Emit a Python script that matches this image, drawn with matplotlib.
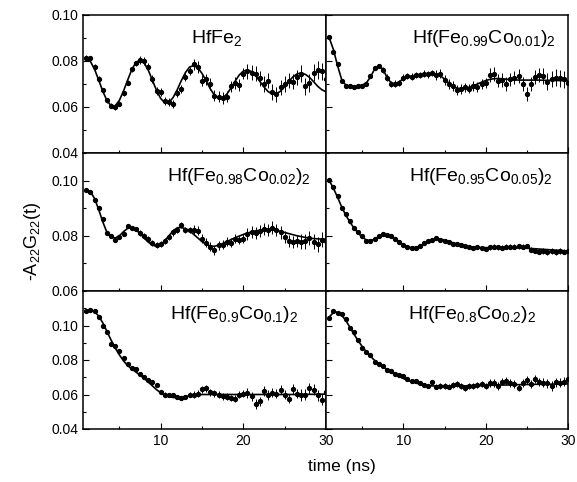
import numpy as np
import matplotlib
matplotlib.use('Agg')
import matplotlib.pyplot as plt
from matplotlib.ticker import MultipleLocator

plt.rcParams['font.family'] = ['Liberation Sans', 'DejaVu Sans']
plt.rcParams['mathtext.fontset'] = 'custom'
plt.rcParams['mathtext.rm'] = 'Liberation Sans'
plt.rcParams['mathtext.it'] = 'Liberation Sans:italic'
plt.rcParams['mathtext.bf'] = 'Liberation Sans:bold'

# ---------------- data ----------------
time_ns = [1.0, 1.5, 2.0, 2.5, 3.0, 3.5, 4.0, 4.5, 5.0, 5.5, 6.0, 6.5, 7.0,
           7.5, 8.0, 8.5, 9.0, 9.5, 10.0, 10.5, 11.0, 11.5, 12.0, 12.5, 13.0, 13.5,
           14.0, 14.5, 15.0, 15.5, 16.0, 16.5, 17.0, 17.5, 18.0, 18.5, 19.0, 19.5, 20.0,
           20.5, 21.0, 21.5, 22.0, 22.5, 23.0, 23.5, 24.0, 24.5, 25.0, 25.5, 26.0, 26.5,
           27.0, 27.5, 28.0, 28.5, 29.0, 29.5, 30.0]

labels = ["HfFe$_2$",
          "Hf(Fe$_{0.99}$Co$_{0.01}$)$_2$",
          "Hf(Fe$_{0.98}$Co$_{0.02}$)$_2$",
          "Hf(Fe$_{0.95}$Co$_{0.05}$)$_2$",
          "Hf(Fe$_{0.9}$Co$_{0.1}$)$_2$",
          "Hf(Fe$_{0.8}$Co$_{0.2}$)$_2$"]

# HfFe2
data_hffe2 = [.0815, .0812, .0775, .0722, .0672, .0630, .0605, .0600, .0615, .0660, .0705, .0765, .0790,
              .0805, .0800, .0775, .0720, .0670, .0665, .0625, .0620, .0612, .0660, .0680, .0730, .0755,
              .0785, .0775, .0715, .0720, .0700, .0650, .0645, .0640, .0645, .0690, .0705, .0695, .0745,
              .0755, .0750, .0745, .0725, .0700, .0715, .0665, .0655, .0685, .0700, .0715, .0710, .0730,
              .0745, .0690, .0705, .0750, .0760, .0755, .0720]
fit_hffe2 = [.0810, .0798, .0764, .0717, .0668, .0628, .0605, .0605, .0629, .0669, .0717, .0762, .0794,
             .0804, .0792, .0760, .0716, .0672, .0637, .0618, .0620, .0641, .0675, .0715, .0750, .0774,
             .0780, .0770, .0746, .0714, .0679, .0652, .0637, .0639, .0656, .0682, .0712, .0739, .0756,
             .0761, .0754, .0736, .0711, .0687, .0667, .0656, .0657, .0669, .0688, .0711, .0731, .0744,
             .0748, .0742, .0729, .0710, .0690, .0675, .0666]
err_hffe2 = [0.0011] * 13 + [0.0017] * 13 + [0.0025] * 13 + [0.0033] * 13 + [0.0038] * 7

# Co 0.01
data_co01 = [.0905, .0840, .0785, .0715, .0692, .0690, .0688, .0690, .0692, .0700, .0735, .0770, .0780,
             .0760, .0728, .0700, .0702, .0705, .0728, .0735, .0732, .0740, .0738, .0745, .0742, .0748,
             .0740, .0745, .0718, .0700, .0690, .0675, .0678, .0685, .0680, .0692, .0688, .0700, .0705,
             .0740, .0745, .0715, .0718, .0700, .0720, .0728, .0735, .0700, .0655, .0700, .0730, .0738,
             .0735, .0710, .0722, .0728, .0725, .0720, .0705]
fit_co01 = [.0900, .0850, .0780, .0720, .0695, .0688, .0690, .0692, .0695, .0705, .0730, .0765, .0780,
            .0765, .0730, .0705, .0700, .0710, .0722, .0730, .0735, .0738, .0740, .0742, .0743, .0743,
            .0741, .0735, .0722, .0705, .0690, .0682, .0680, .0682, .0686, .0692, .0700, .0708, .0715,
            .0720, .0723, .0724, .0723, .0721, .0719, .0718, .0717, .0717, .0717, .0717, .0717, .0717,
            .0716, .0716, .0716, .0715, .0715, .0714, .0713]
err_co01 = [0.0008] * 13 + [0.0014] * 13 + [0.0021] * 13 + [0.003] * 13 + [0.0036] * 7

# Co 0.02
data_co02 = [.0965, .0958, .0930, .0900, .0860, .0810, .0800, .0785, .0795, .0805, .0835, .0828, .0825,
             .0810, .0800, .0790, .0775, .0765, .0770, .0782, .0795, .0812, .0820, .0838, .0822, .0820,
             .0822, .0818, .0790, .0775, .0760, .0748, .0765, .0768, .0778, .0775, .0790, .0785, .0790,
             .0805, .0815, .0810, .0818, .0825, .0822, .0830, .0820, .0812, .0795, .0780, .0778, .0780,
             .0778, .0780, .0792, .0778, .0770, .0785, .0780]
fit_co02 = [.0966, .0960, .0935, .0895, .0850, .0812, .0795, .0792, .0800, .0815, .0827, .0830, .0822,
            .0808, .0792, .0777, .0766, .0762, .0768, .0782, .0800, .0818, .0829, .0830, .0826, .0818,
            .0805, .0792, .0779, .0769, .0763, .0762, .0766, .0772, .0779, .0786, .0793, .0799, .0805,
            .0810, .0814, .0818, .0820, .0822, .0822, .0821, .0819, .0816, .0812, .0808, .0804, .0800,
            .0797, .0794, .0792, .0790, .0789, .0788, .0788]
err_co02 = [0.0007] * 13 + [0.0011] * 13 + [0.0016] * 13 + [0.0022] * 13 + [0.0027] * 7

# Co 0.05
data_co05 = [.1002, .0975, .0945, .0902, .0878, .0852, .0830, .0812, .0798, .0782, .0780, .0790, .0800,
             .0808, .0802, .0801, .0788, .0776, .0765, .0758, .0755, .0754, .0762, .0775, .0782, .0785,
             .0792, .0785, .0782, .0778, .0772, .0770, .0765, .0762, .0758, .0757, .0760, .0756, .0752,
             .0758, .0760, .0758, .0757, .0760, .0760, .0761, .0762, .0761, .0763, .0750, .0745, .0742,
             .0745, .0740, .0744, .0742, .0745, .0743, .0745]
fit_co05 = [.1000, .0972, .0940, .0905, .0875, .0850, .0828, .0810, .0795, .0785, .0782, .0788, .0797,
            .0803, .0805, .0800, .0790, .0778, .0767, .0760, .0757, .0758, .0763, .0771, .0779, .0785,
            .0788, .0788, .0785, .0780, .0775, .0770, .0766, .0763, .0761, .0759, .0758, .0757, .0757,
            .0757, .0757, .0757, .0757, .0757, .0757, .0756, .0756, .0755, .0755, .0754, .0753, .0752,
            .0751, .0750, .0749, .0748, .0747, .0746, .0745]
err_co05 = [0.0004] * 26 + [0.0006] * 13 + [0.0009] * 13 + [0.001] * 7

# Co 0.1
data_co10 = [.1085, .1090, .1085, .1050, .1000, .0965, .0890, .0880, .0855, .0810, .0775, .0755, .0745,
             .0720, .0700, .0685, .0670, .0655, .0615, .0600, .0595, .0595, .0585, .0578, .0588, .0600,
             .0598, .0605, .0630, .0635, .0612, .0608, .0600, .0590, .0588, .0580, .0575, .0598, .0605,
             .0608, .0590, .0545, .0560, .0620, .0598, .0610, .0605, .0628, .0600, .0575, .0632, .0605,
             .0598, .0600, .0635, .0628, .0595, .0570, .0615]
fit_co10 = [.1085, .1088, .1080, .1055, .1015, .0965, .0915, .0870, .0830, .0795, .0768, .0748, .0730,
            .0712, .0693, .0672, .0650, .0628, .0610, .0597, .0588, .0583, .0582, .0584, .0588, .0592,
            .0596, .0598, .0600, .0600, .0600, .0600, .0600, .0600, .0600, .0600, .0600, .0600, .0600,
            .0600, .0600, .0600, .0600, .0600, .0600, .0600, .0600, .0600, .0600, .0600, .0600, .0600,
            .0600, .0601, .0601, .0601, .0602, .0602, .0602]
err_co10 = [0.0008] * 13 + [0.0012] * 13 + [0.002] * 13 + [0.0027] * 13 + [0.0033] * 7

# Co 0.2
data_co20 = [.1045, .1082, .1075, .1065, .1035, .0985, .0960, .0915, .0870, .0845, .0830, .0790, .0775,
             .0765, .0740, .0735, .0718, .0712, .0705, .0690, .0678, .0680, .0665, .0655, .0650, .0672,
             .0645, .0648, .0650, .0645, .0655, .0660, .0648, .0638, .0650, .0648, .0655, .0662, .0650,
             .0665, .0668, .0650, .0675, .0678, .0665, .0660, .0640, .0665, .0685, .0660, .0690, .0672,
             .0668, .0665, .0650, .0670, .0668, .0675, .0690]
fit_co20 = [.1050, .1075, .1078, .1060, .1030, .0990, .0950, .0912, .0878, .0848, .0822, .0798, .0778,
            .0760, .0745, .0730, .0716, .0704, .0693, .0683, .0674, .0667, .0661, .0656, .0652, .0650,
            .0649, .0648, .0648, .0648, .0649, .0649, .0650, .0650, .0651, .0651, .0652, .0652, .0653,
            .0653, .0654, .0654, .0655, .0655, .0656, .0656, .0657, .0657, .0658, .0658, .0659, .0659,
            .0660, .0660, .0660, .0661, .0661, .0661, .0662]
err_co20 = [0.0007] * 13 + [0.0011] * 13 + [0.0016] * 13 + [0.0022] * 13 + [0.0027] * 7

row_ylims = [(0.04, 0.10), (0.06, 0.11), (0.04, 0.12)]
row_yticks = [[0.04, 0.06, 0.08, 0.10], [0.06, 0.08, 0.10], [0.04, 0.06, 0.08, 0.10]]
xticks = [10, 20, 30]

panels = [(data_hffe2, fit_hffe2, err_hffe2),
          (data_co01, fit_co01, err_co01),
          (data_co02, fit_co02, err_co02),
          (data_co05, fit_co05, err_co05),
          (data_co10, fit_co10, err_co10),
          (data_co20, fit_co20, err_co20)]

# ---------------- figure ----------------
fig = plt.figure(figsize=(5.77, 4.82), dpi=100)
W, H = 577, 482
x0, xm, x1 = 83, 326, 568
ytop, rowh = 15, 138

label_pos = [(0.55, 'center'), (0.95, 'right'),
             (0.935, 'right'), (0.935, 'right'),
             (0.885, 'right'), (0.87, 'right')]

for i, (d, f, e) in enumerate(panels):
    r, c = divmod(i, 2)
    left = (x0 if c == 0 else xm) / W
    width = ((xm - x0) if c == 0 else (x1 - xm)) / W
    bottom = 1 - (ytop + (r + 1) * rowh) / H
    ax = fig.add_axes([left, bottom, width, rowh / H])
    ax.errorbar(time_ns, d, yerr=e, fmt='o', ms=2.8, color='black',
                ecolor='black', elinewidth=0.7, capsize=0, zorder=3)
    ax.plot(time_ns, f, color='black', lw=1.2, zorder=4)
    ax.set_xlim(0.6, 30)
    ax.set_ylim(*row_ylims[r])
    ax.set_yticks(row_yticks[r])
    ax.yaxis.set_minor_locator(MultipleLocator(0.01))
    ax.set_xticks(xticks)
    ax.xaxis.set_minor_locator(MultipleLocator(5))
    ax.tick_params(which='both', direction='in', labelsize=10, width=0.8)
    ax.tick_params(which='major', length=4)
    ax.tick_params(which='minor', length=2)
    if c == 0:
        ax.yaxis.set_major_formatter(matplotlib.ticker.FormatStrFormatter('%.2f'))
    else:
        ax.tick_params(labelleft=False)
    if r != 2:
        ax.tick_params(labelbottom=False)
    for s in ax.spines.values():
        s.set_linewidth(1.1)
    lx, ha = label_pos[i]
    ax.text(lx, 0.80, labels[i], transform=ax.transAxes, ha=ha, va='baseline',
            fontsize=14)

fig.text(0.056, 0.50, "-A$_{22}$G$_{22}$(t)", rotation=90, ha='center', va='center',
         fontsize=13)
fig.text(342 / W, 1 - 467 / H, "time (ns)", ha='center', va='center', fontsize=12.5)

fig.savefig('out.png', dpi=100)
